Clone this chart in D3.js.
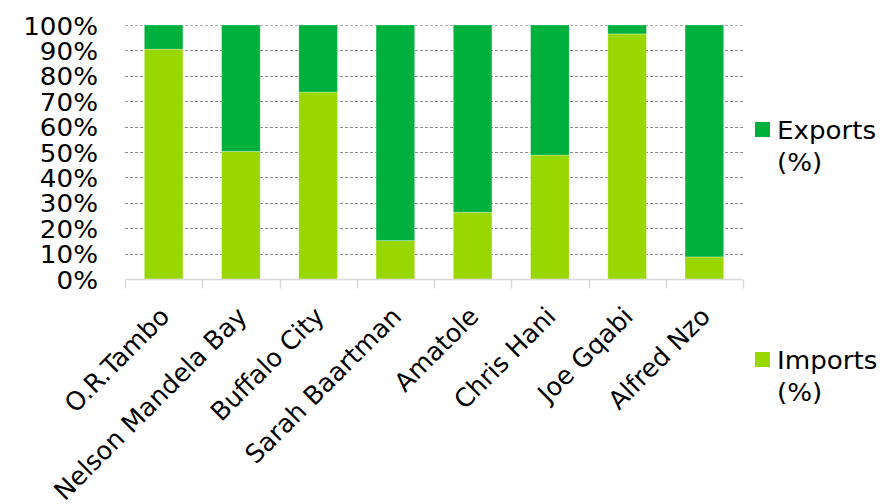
<!DOCTYPE html>
<html>
<head>
<meta charset="utf-8">
<script src="https://cdn.jsdelivr.net/npm/d3@7"></script>
<style>
  html, body { margin: 0; padding: 0; background: #fff; }
  svg { display: block; font-family: "DejaVu Sans", Verdana, sans-serif; }
</style>
</head>
<body>
<svg id="chart" width="886" height="504"></svg>
<script>
// District names along the x axis
const districts = ["O.R.Tambo", "Nelson Mandela Bay", "Buffalo City", "Sarah Baartman",
                   "Amatole", "Chris Hani", "Joe Gqabi", "Alfred Nzo"];
// Share of trade that is imports, per district (%)
const importsPct = [90.5, 50.2, 73.6, 15.1, 26.3, 48.8, 96.5, 8.7];
// Share of trade that is exports, per district (%)
const exportsPct = [9.5, 49.8, 26.4, 84.9, 73.7, 51.2, 3.5, 91.3];
// Y axis ticks
const yTicks = [0, 10, 20, 30, 40, 50, 60, 70, 80, 90, 100];

const seriesNames = ["Imports (%)", "Exports (%)"];
const colors = { "Imports (%)": "#99d700", "Exports (%)": "#00b03c" };

// Horizontal text is drawn slightly wide, like the original typeface
const FONT = 24, WIDEN = 1.09, LABEL_FONT = 25.5;

const svg = d3.select("#chart");
const margin = { left: 125, right: 143, top: 25, bottom: 225 };
const W = 886, H = 504;

const x = d3.scaleBand().domain(districts).range([margin.left, W - margin.right]).paddingInner(0.5).paddingOuter(0.25);
const xEdges = d3.scaleBand().domain(districts).range([margin.left, W - margin.right]);
const y = d3.scaleLinear().domain([0, 100]).range([H - margin.bottom, margin.top]);

// Dashed horizontal gridlines
svg.append("g").selectAll("line").data(yTicks.filter(t => t > 0)).join("line")
  .attr("x1", margin.left).attr("x2", W - margin.right)
  .attr("y1", d => Math.round(y(d)) + 0.5).attr("y2", d => Math.round(y(d)) + 0.5)
  .attr("stroke", d => d === 100 ? "#b0b0b0" : "#8c8c8c")
  .attr("stroke-width", 1).attr("stroke-dasharray", "3,2");

// Stacked bars
const rows = districts.map((d, i) => ({ district: d, "Imports (%)": importsPct[i], "Exports (%)": exportsPct[i] }));
const stacked = d3.stack().keys(seriesNames)(rows);

svg.append("g").selectAll("g").data(stacked).join("g")
  .attr("fill", s => colors[s.key])
  .selectAll("rect").data(s => s).join("rect")
  .attr("x", d => x(d.data.district))
  .attr("width", x.bandwidth())
  .attr("y", d => y(d[1]))
  .attr("height", d => y(d[0]) - y(d[1]))
  .attr("stroke", "#ffffff").attr("stroke-opacity", 0.35).attr("stroke-width", 0.8);

// X axis baseline with tick marks at category boundaries
const axisY = y(0) + 0.5;
const gx = svg.append("g");
gx.append("line").attr("x1", margin.left).attr("x2", W - margin.right)
  .attr("y1", axisY).attr("y2", axisY).attr("stroke", "#d9d9d9").attr("stroke-width", 1.5);
const edges = districts.map(d => xEdges(d)).concat([W - margin.right]);
gx.selectAll("line.tick").data(edges).join("line").attr("class", "tick")
  .attr("x1", d => Math.round(d) + 0.5).attr("x2", d => Math.round(d) + 0.5)
  .attr("y1", axisY).attr("y2", axisY + 9)
  .attr("stroke", "#d9d9d9").attr("stroke-width", 1.5);

// Y axis tick labels
svg.append("g").selectAll("text").data(yTicks).join("text")
  .attr("transform", d => `translate(98,${y(d)}) scale(${WIDEN},1)`)
  .attr("dy", "0.4em")
  .attr("text-anchor", "end")
  .attr("font-size", FONT).attr("fill", "#000")
  .text(d => d + "%");

// Rotated category labels
svg.append("g").selectAll("text").data(districts).join("text")
  .attr("transform", d => `translate(${x(d) + x.bandwidth() / 2 + 7.5},${axisY + 38.5}) rotate(-45)`)
  .attr("text-anchor", "end")
  .attr("font-size", LABEL_FONT).attr("fill", "#000")
  .text(d => d);

// Legend
const legendItems = [
  { name: "Exports", top: 122 },
  { name: "Imports", top: 352 }
];
const lg = svg.append("g");
legendItems.forEach(item => {
  const key = item.name + " (%)";
  lg.append("rect").attr("x", 755).attr("y", item.top).attr("width", 15).attr("height", 15).attr("fill", colors[key]);
  const t = lg.append("text")
    .attr("transform", `translate(777,${item.top + 16.5}) scale(${WIDEN},1)`)
    .attr("font-size", FONT).attr("fill", "#000");
  t.append("tspan").attr("x", 0).text(item.name);
  t.append("tspan").attr("x", 0).attr("dy", 32.5).text("(%)");
});
</script>
</body>
</html>
